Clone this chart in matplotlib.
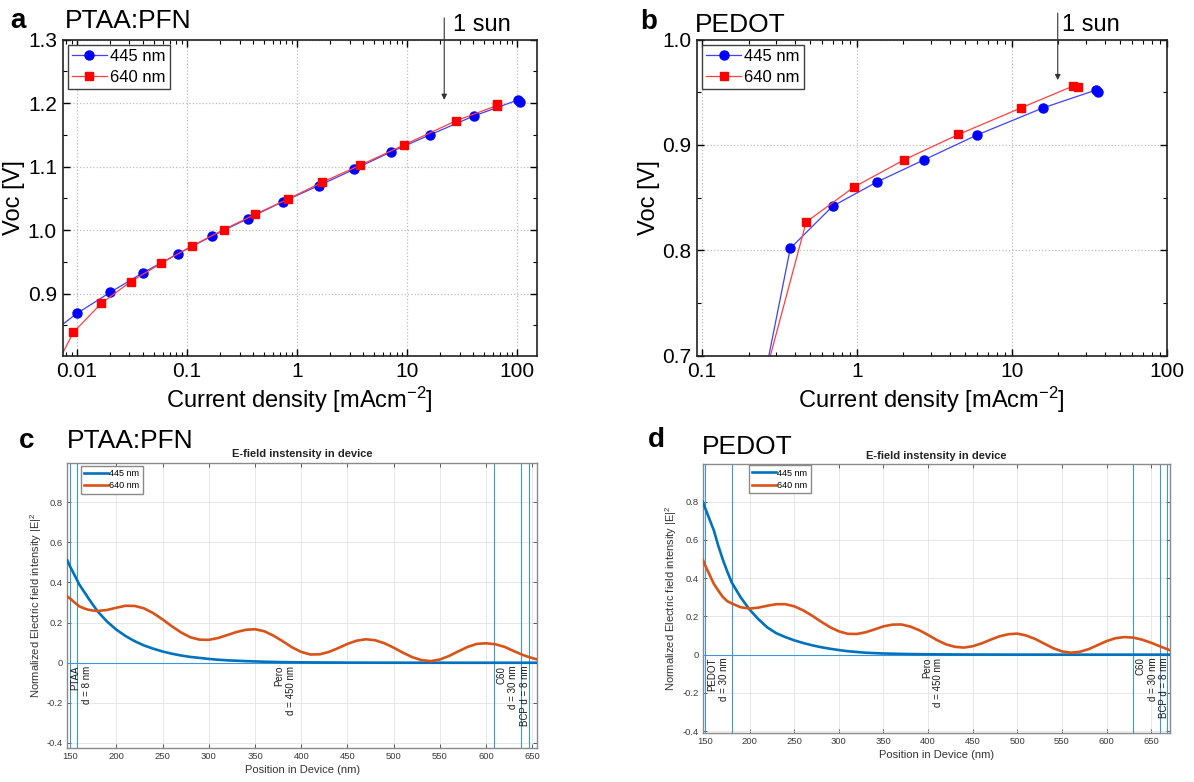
import matplotlib
matplotlib.use('Agg')
from matplotlib import pyplot as plt
from matplotlib.ticker import (FuncFormatter, LogLocator, MultipleLocator,
                               NullFormatter, FixedLocator)

plt.rcParams['font.family'] = ['Liberation Sans', 'DejaVu Sans']
plt.rcParams['mathtext.fontset'] = 'custom'
plt.rcParams['mathtext.rm'] = 'Liberation Sans'
plt.rcParams['mathtext.default'] = 'regular'

W, H = 1194, 782

# ---- panel a : PTAA:PFN, Voc vs current density
a_j445 = [0.005, 0.010, 0.020, 0.0398, 0.0828, 0.170, 0.356, 0.745, 1.57,
          3.27, 7.1, 16.1, 40.7, 102, 106]
a_v445 = [0.829, 0.869, 0.902, 0.933, 0.963, 0.991, 1.018, 1.045, 1.070,
          1.0955, 1.123, 1.150, 1.180, 1.205, 1.202]
a_j640 = [0.005, 0.00927, 0.0167, 0.0308, 0.0585, 0.112, 0.216, 0.417,
          0.828, 1.67, 3.72, 9.33, 27.7, 65, 66]
a_v640 = [0.748, 0.839, 0.885, 0.919, 0.948, 0.9755, 1.001, 1.025, 1.049,
          1.075, 1.102, 1.134, 1.172, 1.196, 1.198]
a_sun = 21.7

# ---- panel b : PEDOT, Voc vs current density
b_j445 = [0.25, 0.372, 0.698, 1.35, 2.72, 5.97, 15.8, 34.8, 35.8]
b_v445 = [0.675, 0.802, 0.842, 0.865, 0.886, 0.9095, 0.935, 0.952, 0.950]
b_j640 = [0.25, 0.471, 0.956, 2.02, 4.53, 11.4, 25.0, 26.7]
b_v640 = [0.676, 0.827, 0.860, 0.886, 0.910, 0.935, 0.956, 0.955]
b_sun = 19.8

# ---- panel c : PTAA:PFN, E-field in device
c_pos = [147, 150, 155, 160, 165, 170, 175, 180] + list(range(190, 651, 10)) + [655]
c_e445 = [0.510, 0.480, 0.435, 0.390, 0.355, 0.320, 0.287, 0.255,
          0.205, 0.165, 0.133, 0.107, 0.086, 0.070, 0.056, 0.045, 0.036, 0.029,
          0.024, 0.019, 0.015, 0.012, 0.010, 0.008, 0.0065, 0.005, 0.004, 0.003,
          0.0025, 0.002, 0.0016, 0.0013, 0.001, 0.0008, 0.0006, 0.0005, 0.0004, 0.0003,
          0.0002, 0.0002, 0.0001, 0.0001, 0.0001, 0.0001, 0.0001, 0, 0, 0,
          0, 0, 0, 0, 0, 0, 0,
          0]
c_e640 = [0.330, 0.320, 0.300, 0.281, 0.271, 0.264, 0.260, 0.258,
          0.263, 0.274, 0.284, 0.283, 0.271, 0.247, 0.216, 0.182, 0.151, 0.127,
          0.115, 0.114, 0.123, 0.138, 0.153, 0.164, 0.167, 0.157, 0.135, 0.107,
          0.077, 0.054, 0.041, 0.042, 0.054, 0.073, 0.094, 0.110, 0.117, 0.112,
          0.097, 0.075, 0.050, 0.028, 0.013, 0.008, 0.016, 0.034, 0.057, 0.079,
          0.094, 0.097, 0.092, 0.079, 0.058, 0.038, 0.023,
          0.017]
c_layers = ['PTAA\nd = 8 nm', 'Pero\nd = 450 nm', 'C60\nd = 30 nm', 'BCP d = 8 nm']
c_thick = [8, 450, 30, 8]

# ---- panel d : PEDOT, E-field in device
d_pos = [147.5, 150, 155, 160, 165, 170, 175, 180] + list(range(190, 671, 10)) + [671]
d_e445 = [0.800, 0.770, 0.710, 0.650, 0.569, 0.498, 0.435, 0.378,
          0.300, 0.236, 0.185, 0.142, 0.112, 0.092, 0.075, 0.061, 0.049, 0.039,
          0.031, 0.024, 0.018, 0.014, 0.010, 0.008, 0.006, 0.005, 0.004, 0.003,
          0.0025, 0.002, 0.0016, 0.0013, 0.001, 0.0008, 0.0006, 0.0005, 0.0004, 0.0003,
          0.0002, 0.0002, 0.0001, 0.0001, 0.0001, 0.0001, 0, 0, 0, 0,
          0, 0, 0, 0, 0, 0, 0, 0, 0,
          0]
d_e640 = [0.498, 0.470, 0.420, 0.370, 0.335, 0.302, 0.280, 0.268,
          0.248, 0.241, 0.246, 0.256, 0.264, 0.264, 0.253, 0.232, 0.204, 0.173,
          0.144, 0.122, 0.109, 0.108, 0.117, 0.132, 0.148, 0.157, 0.158, 0.147,
          0.128, 0.103, 0.076, 0.054, 0.041, 0.037, 0.044, 0.059, 0.078, 0.096,
          0.107, 0.110, 0.100, 0.082, 0.058, 0.034, 0.017, 0.010, 0.015, 0.029,
          0.050, 0.071, 0.086, 0.092, 0.089, 0.078, 0.062, 0.043, 0.025,
          0.023]
d_layers = ['PEDOT\nd = 30 nm', 'Pero\nd = 450 nm', 'C60\nd = 30 nm', 'BCP d = 8 nm']
d_thick = [30, 450, 30, 8]
stack_start = 150


def px_rect(l, t, r, b):
  return [l / W, 1 - b / H, (r - l) / W, (b - t) / H]


def voc_panel(ax, j445, v445, j640, v640, xlim, ylim, sun_x, sun_tip,
              sun_top, sun_text_y, sun_dx):
  """Voc vs light-intensity (current density) plot, Origin style."""
  ax.plot(j445, v445, color='#4040ff', lw=0.9, marker='o', ms=6.5,
          mfc='#0000ff', mec='#0000ff', label='445 nm')
  ax.plot(j640, v640, color='#ff4040', lw=0.9, marker='s', ms=5.5,
          mfc='#ff0000', mec='#ff0000', label='640 nm')
  ax.set_xscale('log')
  ax.set_xlim(xlim)
  ax.set_ylim(ylim)
  ax.xaxis.set_major_locator(LogLocator(base=10))
  ax.xaxis.set_minor_locator(LogLocator(base=10, subs=range(2, 10)))
  ax.xaxis.set_minor_formatter(NullFormatter())
  ax.xaxis.set_major_formatter(FuncFormatter(lambda v, p: '%g' % v))
  ax.yaxis.set_major_locator(MultipleLocator(0.1))
  ax.yaxis.set_minor_locator(MultipleLocator(0.05))
  ax.yaxis.set_major_formatter(FuncFormatter(lambda v, p: '%.1f' % v))
  ax.tick_params(which='both', direction='in', top=True, right=True,
                 labelsize=15, pad=4)
  ax.tick_params(which='major', length=5, width=1)
  ax.tick_params(which='minor', length=3, width=0.8)
  for s in ax.spines.values():
    s.set_linewidth(1.2)
    s.set_color('#222222')
  ax.grid(True, which='major', linestyle=':', color='#bdbdbd', lw=0.9)
  ax.set_xlabel('Current density [mAcm$^{-2}$]', fontsize=17, labelpad=3)
  ax.set_ylabel('Voc [V]', fontsize=17, labelpad=2)
  ax.legend(loc='upper left', fontsize=12, numpoints=1, handlelength=2.1,
            handletextpad=0.2, borderaxespad=0.3, labelspacing=0.35,
            fancybox=False, framealpha=1, edgecolor='#404040',
            borderpad=0.25)
  ax.annotate('', xy=(sun_x, sun_tip), xytext=(sun_x, sun_top),
              arrowprops=dict(arrowstyle='-|>', color='#333333', lw=0.8,
                              mutation_scale=8, shrinkA=0, shrinkB=0),
              annotation_clip=False)
  ax.annotate('1 sun', xy=(sun_x, sun_text_y), xytext=(sun_dx, 0),
              textcoords='offset points', fontsize=17, va='center',
              ha='left', annotation_clip=False)


def field_panel(ax, pos, e445, e640, layers, thick, xlim, ylim, legend_xy):
  """Normalised |E|^2 profile through the device, MATLAB style."""
  bounds = [stack_start]
  for t in thick:
    bounds.append(bounds[-1] + t)
  for bx in bounds:
    ax.axvline(bx, color='#3d95dc', lw=0.8, zorder=2)
  ax.axhline(0, color='#3d95dc', lw=0.8, zorder=2)
  ax.plot(pos, e445, color='#0072BD', lw=1.9, label='445 nm', zorder=3)
  ax.plot(pos, e640, color='#D95319', lw=1.9, label='640 nm', zorder=3)
  for i, lab in enumerate(layers):
    mid = (bounds[i] + bounds[i + 1]) / 2
    mid = max(mid, xlim[0] + 15)
    ax.text(mid, -0.015, lab, rotation=90, va='top', ha='center',
            multialignment='right', fontsize=7, color='#1a1a1a')
  ax.set_xlim(xlim)
  ax.set_ylim(ylim)
  ax.xaxis.set_major_locator(MultipleLocator(50))
  ax.yaxis.set_major_locator(FixedLocator([-0.4, -0.2, 0, 0.2, 0.4, 0.6, 0.8]))
  ax.yaxis.set_major_formatter(FuncFormatter(lambda v, p: '%g' % round(v, 2)))
  ax.tick_params(which='both', direction='in', top=True, right=True,
                 labelsize=6.8, length=3, width=0.7, colors='#5a5a5a',
                 labelcolor='#3a3a3a', pad=3)
  for s in ax.spines.values():
    s.set_linewidth(1.0)
    s.set_color('#8a8a8a')
  ax.grid(True, color='#e3e3e3', lw=0.6)
  ax.set_axisbelow(True)
  ax.set_xlabel('Position in Device (nm)', fontsize=8, color='#333333',
                labelpad=3)
  ax.set_ylabel('Normalized Electric field intensity |E|$^2$', fontsize=8,
                color='#333333', labelpad=2)
  ax.set_title('E-field instensity in device', fontsize=8, fontweight='bold',
               color='#222222', pad=4)
  ax.legend(loc='upper left', bbox_to_anchor=legend_xy, borderaxespad=0,
            fontsize=6.5, handlelength=2.6, handletextpad=0.2,
            labelspacing=0.35, fancybox=False, framealpha=1,
            edgecolor='#8a8a8a', borderpad=0.35)


fig = plt.figure(figsize=(W / 100, H / 100), dpi=100)

ax_a = fig.add_axes(px_rect(62.5, 39.5, 537, 356))
voc_panel(ax_a, a_j445, a_v445, a_j640, a_v640, (0.0074, 151), (0.802, 1.3),
          a_sun, 1.205, 1.334, 1.3236, 6)

ax_b = fig.add_axes(px_rect(697, 39.5, 1166.7, 356))
voc_panel(ax_b, b_j445, b_v445, b_j640, b_v640, (0.093, 100), (0.7, 1.0),
          b_sun, 0.9615, 1.025, 1.0138, 3)

ax_c = fig.add_axes(px_rect(67.3, 462.7, 537, 748))
field_panel(ax_c, c_pos, c_e445, c_e640, c_layers, c_thick, (147, 655),
            (-0.425, 0.997), (0.029, 0.988))

ax_d = fig.add_axes(px_rect(702.7, 464.3, 1170, 733))
field_panel(ax_d, d_pos, d_e445, d_e640, d_layers, d_thick, (147.5, 671),
            (-0.41, 0.996), (0.099, 0.996))

# panel letters and device names
for x, y, s in [(10, 21, 'a'), (640, 22, 'b'), (19, 441, 'c'), (648, 440, 'd')]:
  fig.text(x / W, 1 - y / H, s, fontsize=20, fontweight='bold', va='center',
           ha='left')
for x, y, s in [(65, 21, 'PTAA:PFN'), (695, 25, 'PEDOT'),
                (67, 441, 'PTAA:PFN'), (702, 447, 'PEDOT')]:
  fig.text(x / W, 1 - y / H, s, fontsize=19, va='center', ha='left')

fig.savefig('out.png', dpi=100)
